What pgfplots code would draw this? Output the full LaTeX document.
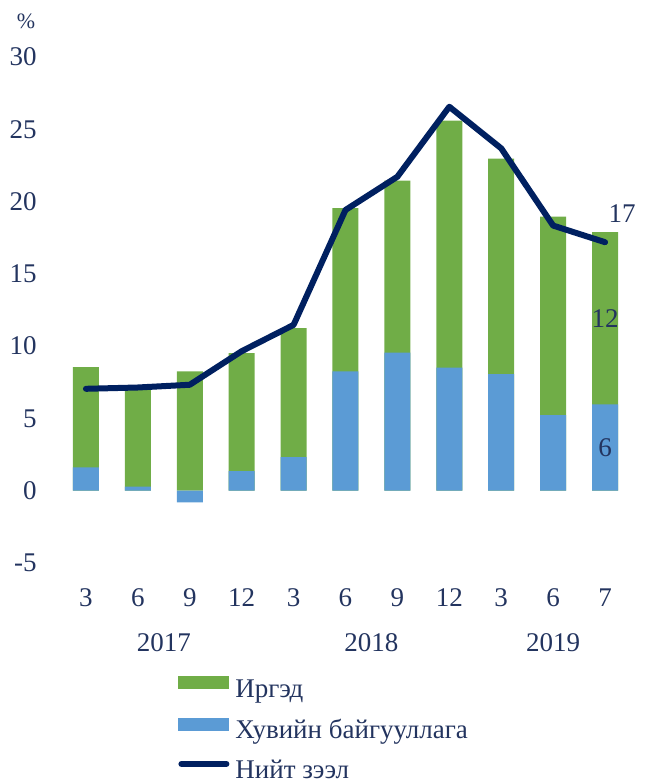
\documentclass[border=0pt]{standalone}
\usepackage{fontspec}
\setmainfont{Liberation Serif}
\usepackage{pgfplots}
\usepackage{pgfplotstable}
\pgfplotsset{compat=1.18}
\definecolor{cgreen}{HTML}{70AD47}
\definecolor{cblue}{HTML}{5B9BD5}
\definecolor{cnavy}{HTML}{002060}
\definecolor{ctext}{RGB}{35,52,95}

\pgfplotstableread{
x blue green total
0 1.61 6.94 7.05
1 0.28 6.82 7.14
2 -0.81 8.25 7.33
3 1.36 8.15 9.65
4 2.33 8.91 11.47
5 8.25 11.29 19.42
6 9.56 11.89 21.72
7 8.52 17.08 26.56
8 8.06 14.91 23.68
9 5.23 13.73 18.34
10 5.97 11.91 17.19
}\data

\newcommand{\lblfont}{\fontsize{13.5}{16}\selectfont}

\begin{document}
\begin{tikzpicture}
\useasboundingbox (-30pt,-110.5pt) rectangle (294pt,281.5pt);
\begin{axis}[
  at={(0,0)}, anchor=south west,
  scale only axis, width=285.5pt, height=253pt,
  xmin=-0.5, xmax=10.5, ymin=-5, ymax=30,
  xtick={0,...,10}, xticklabels={3,6,9,12,3,6,9,12,3,6,7},
  ytick={-5,0,...,30},
  axis line style={draw=none}, major tick length=0pt,
  tick label style={font=\lblfont, text=ctext, inner sep=0pt},
  /pgf/number format/assume math mode=true,
  yticklabel style={anchor=east, xshift=-11.5pt},
  xticklabel style={anchor=center, yshift=-17.5pt},
  clip=false,
  legend cell align=left,
  legend style={at={(0,0)}, anchor=north west, xshift=59pt, yshift=-56.5pt,
    draw=none, fill=none, inner sep=0pt, font=\lblfont, text=ctext,
    row sep=7.3pt,
    nodes={inner sep=0pt, text height=9.5pt, text depth=3pt},
    /tikz/every odd column/.append style={column sep=3pt}},
]
\addplot[ybar, bar width=13pt, bar shift=0pt, fill=cgreen, draw=none,
  legend image code/.code={\fill[cgreen] (0pt,0.8pt) rectangle (25.5pt,7.2pt);}]
  table[x=x, y expr={max(\thisrow{blue},0)+\thisrow{green}}]{\data};
\addlegendentry{Иргэд}
\addplot[ybar, bar width=13pt, bar shift=0pt, fill=cblue, draw=none,
  legend image code/.code={\fill[cblue] (0pt,0.8pt) rectangle (25.5pt,7.2pt);}]
  table[x=x, y=blue]{\data};
\addlegendentry{Хувийн байгууллага}
\addplot[cnavy, line width=3pt, line cap=round, line join=round,
  legend image code/.code={\draw[cnavy, line width=3pt, line cap=round] (1.5pt,4pt) -- (24pt,4pt);}]
  table[x=x, y=total]{\data};
\addlegendentry{Нийт зээл}

\node[font=\lblfont, text=ctext] at (axis cs:10,17.19) [xshift=8.5pt, yshift=14.5pt] {17};
\node[font=\lblfont, text=ctext] at (axis cs:10,11.93) {12};
\node[font=\lblfont, text=ctext] at (axis cs:10,2.98) {6};
\node[font=\lblfont, text=ctext] at (axis cs:1.5,-5) [yshift=-40pt] {2017};
\node[font=\lblfont, text=ctext] at (axis cs:5.5,-5) [yshift=-40pt] {2018};
\node[font=\lblfont, text=ctext] at (axis cs:9,-5) [yshift=-40pt] {2019};
\node[font=\fontsize{11}{13}\selectfont, text=ctext] at (rel axis cs:0,1) [xshift=-17pt, yshift=18pt] {\%};
\end{axis}
\end{tikzpicture}
\end{document}
